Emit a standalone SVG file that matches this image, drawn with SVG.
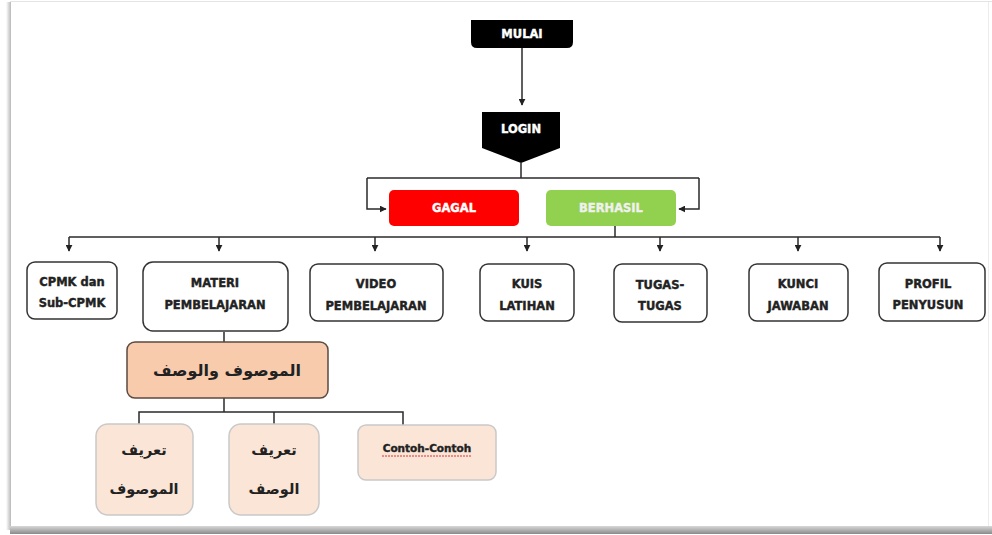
<svg xmlns="http://www.w3.org/2000/svg" width="992" height="535" viewBox="0 0 992 535">
<defs>
<marker id="ah" viewBox="0 0 10 10" refX="9" refY="5" markerWidth="7" markerHeight="7" orient="auto" markerUnits="userSpaceOnUse"><path d="M0,0 L10,5 L0,10 z" fill="#222"/></marker>
<linearGradient id="shL" x1="0" x2="1" y1="0" y2="0"><stop offset="0" stop-color="#fff"/><stop offset="1" stop-color="#b8b8b8"/></linearGradient>
<linearGradient id="shB" x1="0" x2="0" y1="0" y2="1"><stop offset="0" stop-color="#d8d8d8"/><stop offset="1" stop-color="#8a8a8a"/></linearGradient>
</defs>
<style>
.lbl{font-family:"DejaVu Sans","Liberation Sans",sans-serif;font-weight:bold;font-size:11.5px;text-anchor:middle;fill:#222;stroke:#222;stroke-width:0.4}
.wl{fill:#fff;stroke:#fff;font-size:11.5px}
.ar{font-family:"DejaVu Sans","Noto Sans",sans-serif;font-weight:bold;text-anchor:middle;fill:#222}
.box{fill:#fff;stroke:#333;stroke-width:1.5}
.leaf{fill:#fbe5d6;stroke:#c9c9c9;stroke-width:1.5}
.ln{fill:none;stroke:#2a2a2a;stroke-width:1.5}
</style>
<rect x="0" y="0" width="992" height="535" fill="#fff"/>
<rect x="6" y="2" width="5" height="528" fill="url(#shL)"/>
<rect x="10" y="526" width="982" height="8" fill="url(#shB)"/>
<line x1="10" y1="1.5" x2="992" y2="1.5" stroke="#e4e4e4" stroke-width="1"/>
<line x1="988.5" y1="2" x2="988.5" y2="526" stroke="#ececec" stroke-width="1"/>

<g id="connectors">
<line class="ln" x1="522" y1="48" x2="522" y2="105" marker-end="url(#ah)"/>
<polyline class="ln" points="521,163 521,178"/>
<polyline class="ln" points="367,178 699,178"/>
<polyline class="ln" points="367,178 367,209 386,209" marker-end="url(#ah)"/>
<polyline class="ln" points="699,178 699,209 679,209" marker-end="url(#ah)"/>
<polyline class="ln" points="615,226 615,237"/>
<polyline class="ln" points="69,237 940,237"/>
<line class="ln" x1="69" y1="237" x2="69" y2="251" marker-end="url(#ah)"/>
<line class="ln" x1="219" y1="237" x2="219" y2="251" marker-end="url(#ah)"/>
<line class="ln" x1="375" y1="237" x2="375" y2="251" marker-end="url(#ah)"/>
<line class="ln" x1="527" y1="237" x2="527" y2="251" marker-end="url(#ah)"/>
<line class="ln" x1="660" y1="237" x2="660" y2="251" marker-end="url(#ah)"/>
<line class="ln" x1="798" y1="237" x2="798" y2="251" marker-end="url(#ah)"/>
<line class="ln" x1="940" y1="237" x2="940" y2="251" marker-end="url(#ah)"/>
<line class="ln" x1="224" y1="332" x2="224" y2="342"/>
<line class="ln" x1="224" y1="398" x2="224" y2="412"/>
<polyline class="ln" points="139,425 139,412 403,412 403,425"/>
<line class="ln" x1="274" y1="412" x2="274" y2="425"/>
</g>

<g id="mulai">
<path d="M471,20 H573 V42 Q573,48 567,48 H477 Q471,48 471,42 Z" fill="#000"/>
<text class="lbl wl" x="522" y="38">MULAI</text>
</g>
<g id="login">
<path d="M482,112 H560 V148 L521,163 L482,148 Z" fill="#000"/>
<text class="lbl wl" x="521" y="133">LOGIN</text>
</g>
<g id="gagal">
<rect x="389" y="190" width="130" height="36" rx="5" fill="#ff0000"/>
<text class="lbl wl" x="454" y="212">GAGAL</text>
</g>
<g id="berhasil">
<rect x="546" y="190" width="130" height="36" rx="5" fill="#92d050"/>
<text class="lbl wl" x="611" y="212" style="fill:#f0f0f0;stroke:#f0f0f0">BERHASIL</text>
</g>

<g id="cpmk">
<rect class="box" x="27" y="262" width="90" height="57" rx="8"/>
<text class="lbl" x="72" y="286">CPMK dan</text>
<text class="lbl" x="72" y="307">Sub-CPMK</text>
</g>
<g id="materi">
<rect class="box" x="143" y="262" width="145" height="69" rx="10"/>
<text class="lbl" x="215" y="287">MATERI</text>
<text class="lbl" x="215" y="309">PEMBELAJARAN</text>
</g>
<g id="video">
<rect class="box" x="310" y="264" width="133" height="57" rx="8"/>
<text class="lbl" x="376" y="288">VIDEO</text>
<text class="lbl" x="376" y="310">PEMBELAJARAN</text>
</g>
<g id="kuis">
<rect class="box" x="480" y="264" width="94" height="57" rx="8"/>
<text class="lbl" x="527" y="288">KUIS</text>
<text class="lbl" x="527" y="310">LATIHAN</text>
</g>
<g id="tugas">
<rect class="box" x="614" y="264" width="93" height="58" rx="8"/>
<text class="lbl" x="660" y="289">TUGAS-</text>
<text class="lbl" x="660" y="310">TUGAS</text>
</g>
<g id="kunci">
<rect class="box" x="749" y="264" width="99" height="57" rx="8"/>
<text class="lbl" x="798" y="288">KUNCI</text>
<text class="lbl" x="798" y="310">JAWABAN</text>
</g>
<g id="profil">
<rect class="box" x="879" y="263" width="106" height="58" rx="8"/>
<text class="lbl" x="928" y="288">PROFIL</text>
<text class="lbl" x="928" y="309">PENYUSUN</text>
</g>

<g id="mawshuf">
<rect x="127" y="342" width="201" height="56" rx="8" fill="#f8cbad" stroke="#5a4a40" stroke-width="1.5"/>
<text class="ar" x="227" y="376" font-size="16" font-weight="normal" style="font-weight:600">الموصوف والوصف</text>
</g>
<g id="tarif-mawshuf">
<rect class="leaf" x="96" y="424" width="97" height="91" rx="12"/>
<text class="ar" x="144" y="455" font-size="14.5">تعريف</text>
<text class="ar" x="144" y="494" font-size="14.5">الموصوف</text>
</g>
<g id="tarif-washf">
<rect class="leaf" x="229" y="424" width="90" height="91" rx="12"/>
<text class="ar" x="274" y="455" font-size="14.5">تعريف</text>
<text class="ar" x="274" y="494" font-size="14.5">الوصف</text>
</g>
<g id="contoh">
<rect class="leaf" x="358" y="425" width="138" height="55" rx="8"/>
<text class="lbl" x="427" y="452" style="font-size:10.5px">Contoh-Contoh</text>
<line x1="382" y1="456" x2="472" y2="456" stroke="#e03030" stroke-width="1" stroke-dasharray="2,1"/>
</g>
</svg>
